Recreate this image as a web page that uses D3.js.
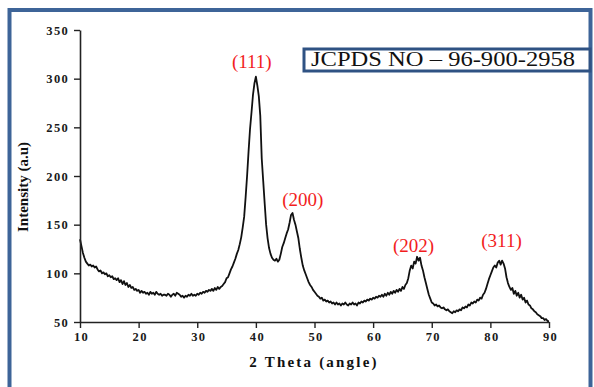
<!DOCTYPE html>
<html>
<head>
<meta charset="utf-8">
<script src="https://cdn.jsdelivr.net/npm/d3@7"></script>
<style>
  body { margin: 0; background: #fff; }
  #chart { width: 594px; height: 387px; }
</style>
</head>
<body>
<div id="chart"></div>
<script>
// XRD pattern, intensity read every 0.25 deg from 10 to 90
var angleStart = 10;
var angleStep = 0.25;
var intensity = [
  135,128,121,116,112,110,108,109,107,108,106,107,104,102,103,100,
  101,99,100,97,98,96,97,94,95,93,95,91,93,89,92,88,
  90,86,88,85,86,83,84,82,83,80,82,80,81,79,80,78,
  81,79,80,78,81,79,78,79,77,78,78,77,79,78,76,78,
  79,77,80,79,78,76,77,75,77,76,78,77,79,77,78,77,
  79,78,80,79,81,80,82,81,83,82,84,82,85,83,86,84,
  86,87,89,91,95,96,100,104,107,111,115,120,124,130,137,147,
  158,178,200,225,248,265,283,295,302,293,282,262,218,195,172,150,
  136,126,120,116,114,113,115,112,114,120,127,131,136,141,145,152,
  160,162,155,150,143,136,125,116,108,103,99,95,91,88,86,83,
  81,79,77,76,74,75,72,73,71,72,70,71,69,70,68,70,
  68,69,67,69,68,70,68,67,69,68,70,68,69,67,70,69,
  71,70,72,71,73,72,74,73,75,74,76,75,77,76,78,76,
  79,77,80,78,81,79,82,80,83,81,84,82,86,84,88,90,
  95,103,108,105,112,110,117,113,116,108,103,96,90,84,78,74,
  70,69,67,68,66,67,65,64,65,63,62,63,61,60,59,61,
  60,62,61,63,62,65,64,66,65,68,67,70,69,71,70,73,
  72,75,74,78,80,84,89,94,98,102,106,108,106,111,113,109,
  113,110,105,96,90,86,83,85,79,82,77,80,75,78,73,75,
  70,72,68,67,64,63,61,60,58,57,56,54,54,52,53,51,
  51
];

var xTicks = [10, 20, 30, 40, 50, 60, 70, 80, 90];
var yTicks = [50, 100, 150, 200, 250, 300, 350];

var peakLabels = ["(111)", "(200)", "(202)", "(311)"];
var peakLabelAngle = [39.3, 48.0, 66.9, 81.9];
var peakLabelIntensity = [311, 169, 122, 127];

var cardText = "JCPDS NO \u2013 96-900-2958";

var width = 594;
var height = 387;

var plot = { left: 80, right: 549, top: 30, bottom: 322 };

var svg = d3
  .select("#chart")
  .append("svg")
  .attr("width", width)
  .attr("height", height);

// outer frame (runs off the bottom of the picture)
svg
  .append("rect")
  .attr("x", 9.5)
  .attr("y", 10)
  .attr("width", 581)
  .attr("height", 420)
  .attr("fill", "white")
  .attr("stroke", "#3d6498")
  .attr("stroke-width", 4);

var x = d3.scaleLinear().domain([10, 90]).range([plot.left, plot.right]);
var y = d3.scaleLinear().domain([50, 350]).range([plot.bottom, plot.top]);

var points = intensity.map(function(v, i) {
  return { a: angleStart + i * angleStep, v: v };
});

var line = d3
  .line()
  .x(function(d) { return x(d.a); })
  .y(function(d) { return y(d.v); });

svg
  .append("path")
  .datum(points)
  .attr("d", line)
  .attr("fill", "none")
  .attr("stroke", "#111")
  .attr("stroke-width", 1.8)
  .attr("stroke-linejoin", "round");

// axes
var xAxis = svg
  .append("g")
  .attr("transform", "translate(0," + plot.bottom + ")")
  .call(d3.axisBottom(x).tickValues(xTicks).tickSize(6).tickSizeOuter(0).tickPadding(4));

var yAxis = svg
  .append("g")
  .attr("transform", "translate(" + plot.left + ",0)")
  .call(d3.axisLeft(y).tickValues(yTicks).tickSize(6).tickSizeOuter(0).tickPadding(5));

[xAxis, yAxis].forEach(function(g) {
  g.select(".domain").attr("stroke", "#222").attr("stroke-width", 1.6);
  g.selectAll(".tick line").attr("stroke", "#222").attr("stroke-width", 1.4);
  g.selectAll(".tick text")
    .attr("fill", "#1a1a1a")
    .style("font-family", "'Liberation Serif', 'Times New Roman', serif")
    .style("font-weight", "bold")
    .style("font-size", "12.5px")
    .style("letter-spacing", "1.3px");
});

xAxis.selectAll(".tick text").attr("dx", "1px");

// axis titles
svg
  .append("text")
  .attr("x", 314)
  .attr("y", 367)
  .attr("text-anchor", "middle")
  .style("font-family", "'Liberation Serif', 'Times New Roman', serif")
  .style("font-weight", "bold")
  .style("font-size", "15px")
  .style("letter-spacing", "2.2px")
  .attr("fill", "#111")
  .text("2 Theta (angle)");

svg
  .append("text")
  .attr("transform", "translate(28,187) rotate(-90)")
  .attr("text-anchor", "middle")
  .style("font-family", "'Liberation Serif', 'Times New Roman', serif")
  .style("font-weight", "bold")
  .style("font-size", "15px")
  .attr("fill", "#111")
  .text("Intensity (a.u)");

// peak labels
svg
  .selectAll(".peak")
  .data(peakLabels)
  .enter()
  .append("text")
  .attr("class", "peak")
  .attr("x", function(d, i) { return x(peakLabelAngle[i]); })
  .attr("y", function(d, i) { return y(peakLabelIntensity[i]); })
  .attr("text-anchor", "middle")
  .style("font-family", "'Liberation Serif', 'Times New Roman', serif")
  .style("font-size", "19px")
  .attr("fill", "#f21d1d")
  .text(function(d) { return d; });

// JCPDS card box
svg
  .append("rect")
  .attr("x", 304)
  .attr("y", 49)
  .attr("width", 286)
  .attr("height", 22)
  .attr("fill", "white")
  .attr("stroke", "#2f5283")
  .attr("stroke-width", 3);

svg
  .append("text")
  .attr("x", 311)
  .attr("y", 66)
  .attr("textLength", 264)
  .attr("lengthAdjust", "spacingAndGlyphs")
  .style("font-family", "'Liberation Serif', 'Times New Roman', serif")
  .style("font-size", "20px")
  .attr("fill", "#111")
  .text(cardText);
</script>
</body>
</html>
